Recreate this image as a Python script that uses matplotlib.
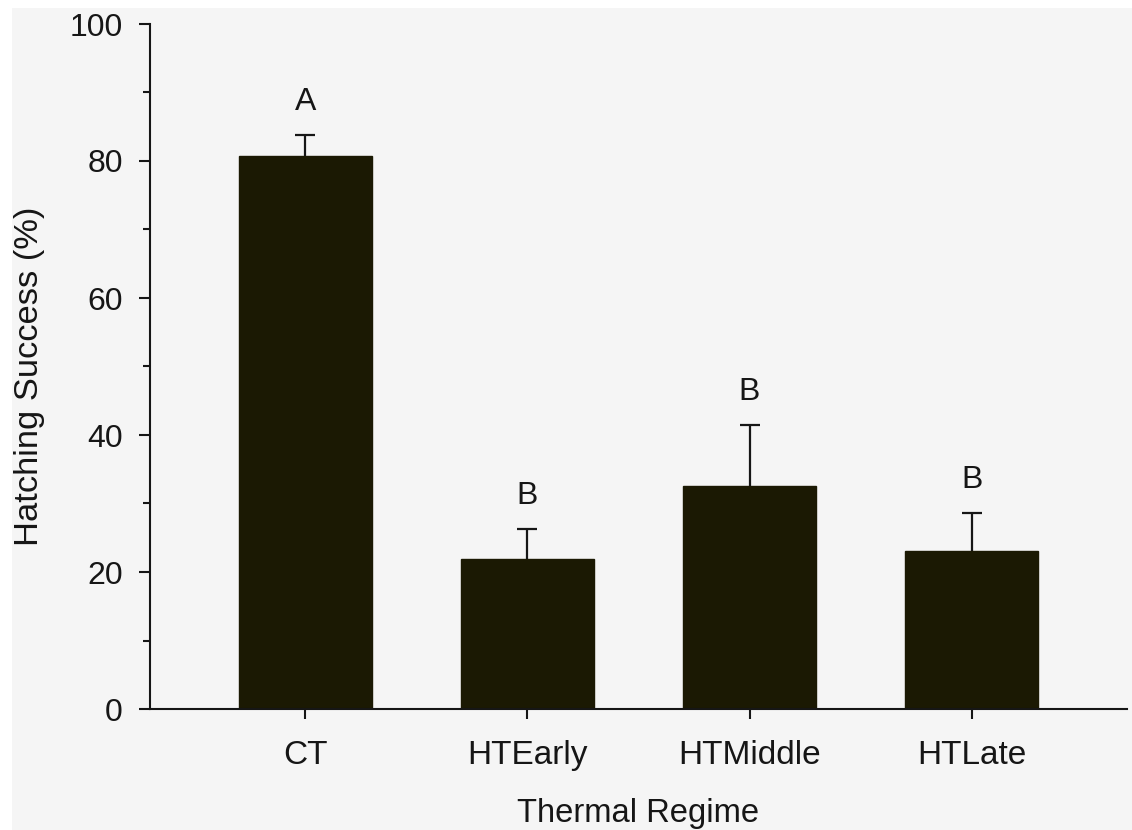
import matplotlib
matplotlib.use("Agg")
import matplotlib.pyplot as plt
from matplotlib.patches import Rectangle
from matplotlib.ticker import MultipleLocator

# Hatching success per thermal regime (mean and upper error)
categories = ["CT", "HTEarly", "HTMiddle", "HTLate"]
means = [80.8, 21.9, 32.6, 23.0]
errors = [3.0, 4.4, 8.8, 5.6]
letters = ["A", "B", "B", "B"]

BAR = "#1b1903"
INK = "#161616"
BG = "#f5f5f5"

plt.rcParams["font.family"] = ["Liberation Sans", "DejaVu Sans"]

W, H = 1132, 830
fig = plt.figure(figsize=(W / 100, H / 100), dpi=100, facecolor="white")
fig.patches.append(Rectangle((11.5 / W, 0), 1, (H - 8) / H,
                             transform=fig.transFigure, facecolor=BG,
                             edgecolor="none", zorder=-10))

ax = fig.add_axes([150 / W, 1 - 709 / H, (1127 - 150) / W, (709 - 24) / H])
ax.set_facecolor("none")

x = list(range(len(categories)))
tops = [m + e for m, e in zip(means, errors)]

ax.bar(x, means, width=0.6, color=BAR, edgecolor=BAR, linewidth=1.0, zorder=2)
# upper-only error whiskers with a cap
ax.vlines(x, means, tops, colors=INK, linewidth=1.6, zorder=3)
ax.plot(x, tops, linestyle="none", marker="_", markersize=15,
        markeredgewidth=1.6, color=INK, zorder=3)

for xi, t, lab in zip(x, tops, letters):
    ax.annotate(lab, (xi, t), xytext=(0, 18), textcoords="offset points",
                ha="center", va="baseline", fontsize=23, color=INK)

ax.set_xlim(-0.7, 3.7)
ax.set_ylim(0, 100)
ax.set_xticks(x)
ax.set_xticklabels(categories)
ax.yaxis.set_major_locator(MultipleLocator(20))
ax.yaxis.set_minor_locator(MultipleLocator(10))

for side in ("top", "right"):
    ax.spines[side].set_visible(False)
for side in ("left", "bottom"):
    ax.spines[side].set_linewidth(1.5)
    ax.spines[side].set_color(INK)

ax.tick_params(axis="y", which="major", direction="out", length=8, width=1.5,
               color=INK, labelsize=23, labelcolor=INK, pad=11.5)
ax.tick_params(axis="y", which="minor", direction="out", length=5, width=1.5,
               color=INK)
ax.tick_params(axis="x", direction="out", length=7.5, width=1.5, color=INK,
               labelsize=24, labelcolor=INK, pad=15)

ax.set_xlabel("Thermal Regime", fontsize=23.6, color=INK, labelpad=19)
ax.set_ylabel("Hatching Success (%)", fontsize=24.8, color=INK, labelpad=18)
ax.yaxis.label.set_y(0.485)

fig.savefig("out.png", dpi=100, facecolor=fig.get_facecolor())
